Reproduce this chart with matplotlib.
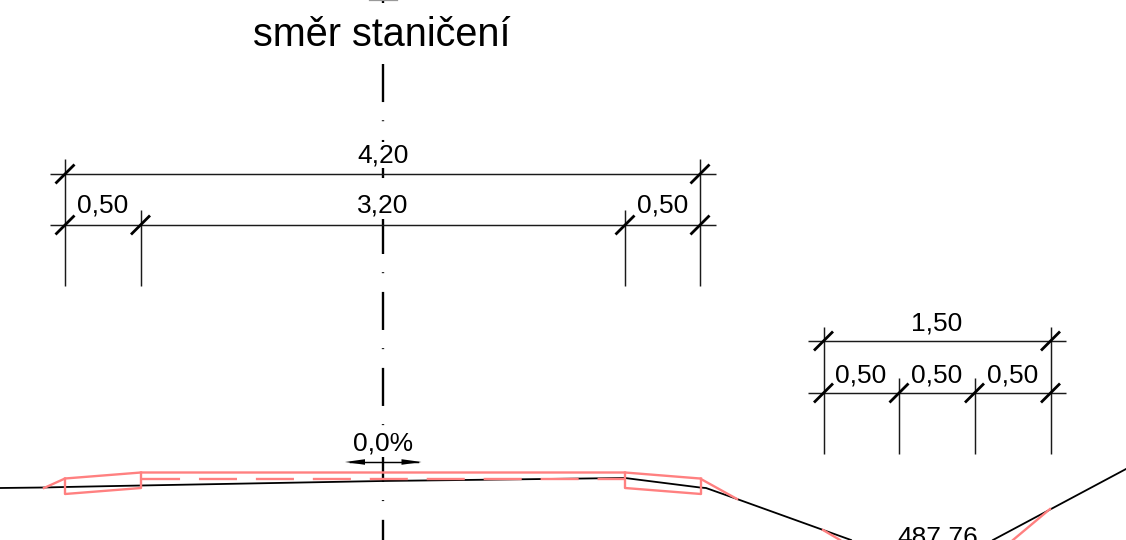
#!/usr/bin/env python3
import matplotlib
matplotlib.use('Agg')
import matplotlib.pyplot as plt

W, H = 1126, 540
BLACK = '#000000'
RED = '#ff8080'

# drawing is in pixel-like units, y going down
ground_x = [0, 44, 65, 141, 382, 625, 700, 706, 737, 851, 993, 1126]
ground_y = [488, 487.5, 487, 485.5, 481, 478, 487.5, 488, 499, 540, 540, 469]

top_x = [44, 65, 141, 625, 700, 737]
top_y = [488, 478.5, 472.5, 472.5, 478.5, 499]
box_left_x = [65, 65, 141, 141]
box_left_y = [478.5, 494, 488, 472.5]
box_right_x = [625, 625, 701, 701]
box_right_y = [472.5, 488, 494, 478.5]
mid_x = [142, 625]
mid_y = [479, 479]
toe_left_x = [823, 840]
toe_left_y = [530, 540]
toe_right_x = [1050, 1013]
toe_right_y = [509, 540]

axis_x = 382.5
axis_y = [64, 540]

dim_left_x = [50, 716]
dim_left_y = [174, 225]
ext_left_top = [(65, 159), (140.5, 210), (625, 210), (700, 159)]
ext_left_bottom = 286
ticks_left = [(65, 174), (700, 174), (65, 225), (140.5, 225), (625, 225), (700, 225)]

dim_right_x = [808, 1066]
dim_right_y = [341, 393]
ext_right_top = [(823.5, 327), (899, 378), (974.5, 378), (1050.5, 327)]
ext_right_bottom = 454
ticks_right = [(823.5, 341), (1050.5, 341), (823.5, 393), (899, 393), (974.5, 393), (1050.5, 393)]

labels = ['0,50', '0,50', '1,50', '0,50', '0,50', '0,50']
label_x = [103, 662.5, 937, 861, 937, 1013]
label_y = [206, 206, 323, 375, 375, 375]

arrow_shaft_x = [350, 418]
arrow_left_x = [345, 365, 365]
arrow_right_x = [421.5, 401.5, 401.5]
arrow_head_y = [462, 459.2, 464.8]


def draw_dims(ax, xs, ys, ext_top, ext_bottom, ticks):
    for y in ys:
        ax.plot(xs, [y, y], color='#1a1a1a', lw=1.05, solid_capstyle='butt')
    for x, y in ext_top:
        ax.plot([x, x], [y, ext_bottom], color='#1a1a1a', lw=1.05, solid_capstyle='butt')
    for x, y in ticks:
        ax.plot([x - 9.5, x + 9.5], [y + 9.5, y - 9.5], color=BLACK, lw=2.0, solid_capstyle='butt')


def main():
    plt.rcParams['font.family'] = ['Liberation Sans', 'DejaVu Sans']
    plt.rcParams['lines.scale_dashes'] = False
    fig = plt.figure(figsize=(W / 100, H / 100), dpi=100)
    ax = fig.add_axes([0, 0, 1, 1])
    ax.set_xlim(0, W)
    ax.set_ylim(H, 0)
    ax.axis('off')

    # centre line: long dash, dot
    ax.plot([axis_x, axis_x], axis_y, color=BLACK, lw=1.7,
            linestyle=(0, (27.4, 13.1, 0.7, 13.5)), dash_capstyle='butt', zorder=1)
    ax.plot([axis_x, axis_x], [0, 3], color=BLACK, lw=1.7, solid_capstyle='butt', zorder=1)
    ax.plot([369, 397], [0.3, 0.3], color='#999999', lw=0.9, zorder=1)

    draw_dims(ax, dim_left_x, dim_left_y, ext_left_top, ext_left_bottom, ticks_left)
    draw_dims(ax, dim_right_x, dim_right_y, ext_right_top, ext_right_bottom, ticks_right)

    ax.plot(ground_x[:10], ground_y[:10], color=BLACK, lw=1.3, zorder=2)
    ax.plot(ground_x[10:], ground_y[10:], color=BLACK, lw=1.3, zorder=2)

    for xs, ys in [(top_x, top_y), (box_left_x, box_left_y), (box_right_x, box_right_y),
                   (toe_left_x, toe_left_y), (toe_right_x, toe_right_y)]:
        ax.plot(xs, ys, color=RED, lw=1.7, zorder=3)
    ax.plot(mid_x, mid_y, color=RED, lw=1.7, linestyle=(0, (27.4, 13.6)),
            dash_capstyle='butt', zorder=3)

    # slope arrow
    ax.plot(arrow_shaft_x, [462, 462], color=BLACK, lw=1.05, zorder=4)
    ax.fill(arrow_left_x, arrow_head_y, color=BLACK, lw=0, zorder=4)
    ax.fill(arrow_right_x, arrow_head_y, color=BLACK, lw=0, zorder=4)

    white = dict(facecolor='white', edgecolor='none', pad=1)
    ax.text(382, 34.5, 'směr staničení', fontsize=28.5, ha='center', va='center', zorder=5)
    ax.text(383, 155, '4,20', fontsize=19, ha='center', va='center', bbox=white, zorder=5)
    ax.text(383, 206, '3,20', fontsize=19, ha='center', va='center', bbox=white, zorder=5)
    ax.text(383, 444, '0,0%', fontsize=19, ha='center', va='center', bbox=white, zorder=5)
    ax.text(938, 538, '487,76', fontsize=19, ha='center', va='center', zorder=5)

    for text, x, y in zip(labels, label_x, label_y):
        ax.text(x, y, text, fontsize=19, ha='center', va='center', zorder=5)

    fig.savefig('out.png', dpi=100)


if __name__ == '__main__':
    main()
